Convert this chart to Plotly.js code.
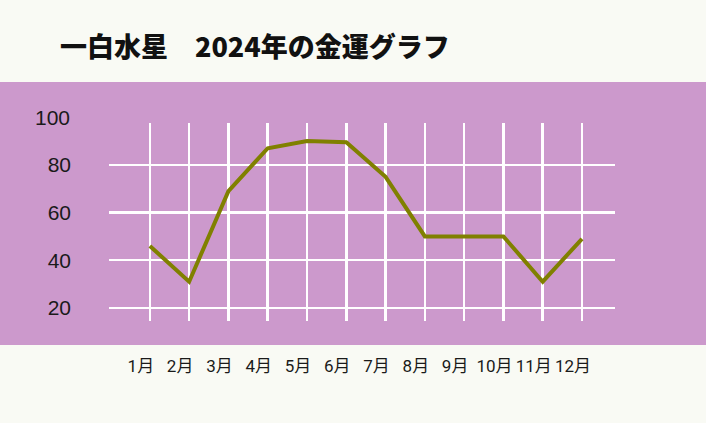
<!DOCTYPE html>
<html>
<head>
<meta charset="utf-8">
<script src="https://cdn.plot.ly/plotly-3.0.1.min.js"></script>
<style>
html, body { margin: 0; padding: 0; background: #f9faf4; }
#graph { width: 706px; height: 423px; }
</style>
</head>
<body>
<div id="graph"></div>
<script>
var months = ['1月','2月','3月','4月','5月','6月','7月','8月','9月','10月','11月','12月'];
var kinun = [46, 31, 69, 87, 90, 89.5, 75, 50, 50, 50, 31, 49];
var yTicks = [20, 40, 60, 80];
var titleText = '一白水星　2024年の金運グラフ';

var yRange = [14.5, 97.6];

var trace = {
    x: months,
    y: kinun,
    type: 'scatter',
    mode: 'lines',
    line: { color: '#808000', width: 4 },
    hoverinfo: 'x+y'
};

var layout = {
    width: 706,
    height: 423,
    margin: { l: 109, r: 91, t: 123, b: 102 },
    paper_bgcolor: '#f9faf4',
    plot_bgcolor: 'rgba(0,0,0,0)',
    showlegend: false,
    title: {
        text: titleText,
        font: { family: '"Noto Sans CJK JP", sans-serif', size: 27, weight: 900, color: '#111' },
        x: 0.361, xanchor: 'center',
        y: 0.887, yanchor: 'middle'
    },
    xaxis: {
        type: 'category',
        range: [-1.04, 11.84],
        showgrid: true,
        gridcolor: '#ffffff',
        gridwidth: 2.5,
        zeroline: false,
        showline: false,
        ticks: '',
        tickangle: 0,
        ticklabelstandoff: 33,
        ticklabelshift: -9,
        tickfont: { family: '"Liberation Sans Narrow", "Roboto", "Noto Sans CJK JP"', size: 17, color: '#1a1a1a' },
        fixedrange: true
    },
    yaxis: {
        range: yRange,
        tickvals: yTicks,
        showgrid: true,
        gridcolor: '#ffffff',
        gridwidth: 2.5,
        zeroline: false,
        showline: false,
        ticks: '',
        ticklabelstandoff: 37,
        tickfont: { family: '"Liberation Sans", sans-serif', size: 21, color: '#1a1a1a' },
        fixedrange: true
    },
    shapes: [{
        type: 'rect', xref: 'paper', yref: 'paper',
        x0: -0.3, x1: 1.3, y0: -0.121, y1: 1.207,
        fillcolor: '#cc99cc', line: { width: 0 }, layer: 'below'
    }],
    annotations: [{
        // the top label sits above the grid, so it is placed by hand
        text: '100', xref: 'paper', yref: 'paper',
        x: 0, y: (100 - yRange[0]) / (yRange[1] - yRange[0]),
        xanchor: 'right', yanchor: 'middle', xshift: -37, showarrow: false,
        font: { family: '"Liberation Sans", sans-serif', size: 21, color: '#1a1a1a' }
    }]
};

Plotly.newPlot('graph', [trace], layout, { displayModeBar: false, staticPlot: true });
</script>
</body>
</html>
